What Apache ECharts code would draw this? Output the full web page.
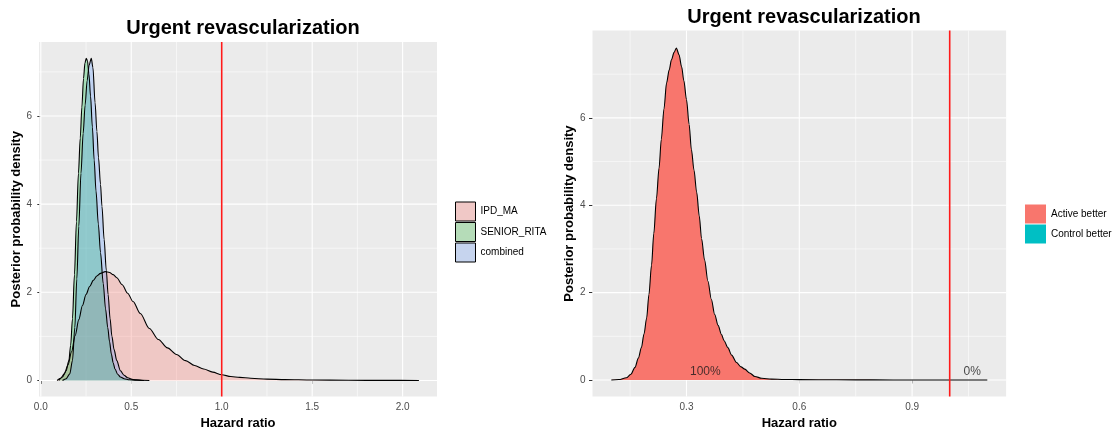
<!DOCTYPE html>
<html>
<head>
<meta charset="utf-8">
<title>Urgent revascularization</title>
<script src="https://cdn.jsdelivr.net/npm/echarts@6/dist/echarts.min.js"></script>
<style>
  html, body { margin: 0; padding: 0; background: #fff; }
  #chart { width: 1114px; height: 435px; }
</style>
</head>
<body>
<div id="chart"></div>
<script>
// ---- Left panel: posterior densities of the hazard ratio ----
const ipdX = [0.09, 0.11, 0.13, 0.15, 0.17, 0.19, 0.21, 0.23, 0.25, 0.27, 0.29, 0.31, 0.33, 0.356, 0.38, 0.40, 0.42, 0.45, 0.48, 0.51, 0.55, 0.60, 0.65, 0.70, 0.75, 0.80, 0.85, 0.90, 0.95, 1.00, 1.05, 1.10, 1.16, 1.25, 1.35, 1.50, 1.70, 1.90, 2.09];
const ipdY = [0, 0.05, 0.15, 0.35, 0.65, 1.02, 1.38, 1.70, 1.95, 2.13, 2.27, 2.37, 2.43, 2.47, 2.45, 2.40, 2.33, 2.17, 1.98, 1.79, 1.52, 1.18, 0.93, 0.74, 0.59, 0.45, 0.34, 0.26, 0.19, 0.13, 0.09, 0.07, 0.05, 0.03, 0.02, 0.01, 0.004, 0.002, 0];

const seniorX = [0.10, 0.12, 0.14, 0.155, 0.165, 0.175, 0.186, 0.197, 0.208, 0.218, 0.227, 0.236, 0.244, 0.251, 0.258, 0.266, 0.275, 0.285, 0.295, 0.305, 0.318, 0.33, 0.345, 0.358, 0.37, 0.38, 0.39, 0.40, 0.41, 0.425, 0.44, 0.46, 0.49, 0.53, 0.57];
const seniorY = [0, 0.08, 0.22, 0.45, 0.80, 1.40, 2.40, 3.60, 4.70, 5.50, 6.20, 6.85, 7.20, 7.31, 7.25, 6.95, 6.45, 5.75, 5.00, 4.30, 3.55, 2.90, 2.20, 1.62, 1.20, 0.88, 0.60, 0.40, 0.26, 0.14, 0.08, 0.04, 0.015, 0.005, 0];

const combX = [0.12, 0.14, 0.16, 0.175, 0.188, 0.199, 0.21, 0.222, 0.234, 0.245, 0.256, 0.267, 0.279, 0.288, 0.30, 0.31, 0.319, 0.33, 0.338, 0.35, 0.362, 0.372, 0.383, 0.393, 0.405, 0.42, 0.44, 0.46, 0.48, 0.51, 0.56, 0.60];
const combY = [0, 0.04, 0.15, 0.45, 1.20, 2.30, 3.50, 4.70, 5.60, 6.25, 6.80, 7.15, 7.31, 7.10, 6.30, 5.65, 5.05, 4.45, 3.95, 3.20, 2.50, 1.95, 1.40, 1.00, 0.70, 0.45, 0.22, 0.12, 0.06, 0.02, 0.005, 0];

// ---- Right panel: pooled posterior, split at HR = 1 ----
const activeX = [0.10, 0.12, 0.14, 0.152, 0.163, 0.172, 0.18, 0.187, 0.194, 0.20, 0.207, 0.213, 0.22, 0.227, 0.233, 0.24, 0.247, 0.254, 0.26, 0.267, 0.273, 0.28, 0.287, 0.293, 0.30, 0.307, 0.313, 0.32, 0.327, 0.334, 0.34, 0.348, 0.357, 0.366, 0.375, 0.384, 0.393, 0.40, 0.41, 0.42, 0.433, 0.445, 0.455, 0.468, 0.482, 0.50, 0.526, 0.56, 0.60, 0.70, 0.80, 0.90, 1.00];
const activeY = [0, 0.01, 0.05, 0.13, 0.29, 0.50, 0.74, 1.05, 1.42, 1.95, 2.63, 3.35, 4.15, 4.85, 5.51, 6.20, 6.80, 7.10, 7.33, 7.50, 7.60, 7.45, 7.17, 6.85, 6.42, 5.85, 5.28, 4.80, 4.30, 3.75, 3.24, 2.75, 2.26, 1.85, 1.50, 1.25, 1.04, 0.90, 0.74, 0.57, 0.40, 0.30, 0.25, 0.16, 0.08, 0.04, 0.02, 0.012, 0.008, 0.004, 0.002, 0.001, 0.0005];
const controlX = [1.00, 1.05, 1.10];
const controlY = [0.0005, 0.0003, 0];

const annotations = [
  { x: 0.35, y: 0.18, text: '100%' },
  { x: 1.06, y: 0.18, text: '0%' }
];

// ---- Scales and ticks ----
const leftXRange = [-0.01, 2.19];
const leftYRange = [-0.366, 7.68];
const leftXMajor = [0, 0.5, 1.0, 1.5, 2.0];
const leftXMinor = [0.25, 0.75, 1.25, 1.75];
const rightXRange = [0.05, 1.15];
const rightYRange = [-0.38, 8.0];
const rightXMajor = [0.3, 0.6, 0.9];
const rightXMinor = [0.15, 0.45, 0.75, 1.05];
const yMajor = [0, 2, 4, 6];
const yMinor = [1, 3, 5, 7];
const refLine = 1.0;

const titleText = 'Urgent revascularization';
const xTitle = 'Hazard ratio';
const yTitle = 'Posterior probability density';

const FONT = '"Liberation Sans", Arial, sans-serif';
const zip = (xs, ys) => xs.map((x, i) => [x, ys[i]]);

// panel grid lines as plain segments behind the densities
function segment(idx, pts, color, width, z) {
  return {
    type: 'line', xAxisIndex: idx, yAxisIndex: idx, data: pts,
    symbol: 'none', silent: true, animation: false, z: z,
    lineStyle: { color: color, width: width, opacity: 1 }, tooltip: { show: false }
  };
}
function panelGrid(idx, xr, yr, xMaj, xMin) {
  const out = [];
  xMin.forEach(v => out.push(segment(idx, [[v, yr[0]], [v, yr[1]]], '#ffffff', 0.55, 1)));
  yMinor.forEach(v => out.push(segment(idx, [[xr[0], v], [xr[1], v]], '#ffffff', 0.55, 1)));
  xMaj.forEach(v => out.push(segment(idx, [[v, yr[0]], [v, yr[1]]], '#ffffff', 1.1, 1)));
  yMajor.forEach(v => out.push(segment(idx, [[xr[0], v], [xr[1], v]], '#ffffff', 1.1, 1)));
  return out;
}

function density(idx, name, xs, ys, fill) {
  return {
    type: 'line', name: name, xAxisIndex: idx, yAxisIndex: idx,
    data: zip(xs, ys), symbol: 'none', smooth: 0.3, smoothMonotone: 'x',
    animation: false, z: 3,
    itemStyle: { color: fill },
    lineStyle: { color: '#000000', width: 1.1 },
    areaStyle: { color: fill, opacity: 1 }
  };
}

function xAxisDef(idx, range, ticks, digits) {
  return {
    type: 'value', gridIndex: idx, min: range[0], max: range[1],
    name: xTitle, nameLocation: 'middle', nameGap: 18.5,
    nameTextStyle: { fontFamily: FONT, fontSize: 13, fontWeight: 'bold', color: '#000' },
    axisLine: { show: false },
    axisTick: { show: true, length: 3.5, customValues: ticks, lineStyle: { color: '#333333', width: 1 } },
    axisLabel: { customValues: ticks, margin: 5.5, fontFamily: FONT, fontSize: 10, color: '#4d4d4d',
                 formatter: v => v.toFixed(digits) },
    splitLine: { show: false }, minorSplitLine: { show: false }
  };
}
function yAxisDef(idx, range, gap) {
  return {
    type: 'value', gridIndex: idx, min: range[0], max: range[1],
    name: yTitle, nameLocation: 'middle', nameGap: gap,
    nameTextStyle: { fontFamily: FONT, fontSize: 13, fontWeight: 'bold', color: '#000' },
    axisLine: { show: false },
    axisTick: { show: true, length: 3.5, customValues: yMajor, lineStyle: { color: '#333333', width: 1 } },
    axisLabel: { customValues: yMajor, margin: 7, fontFamily: FONT, fontSize: 10, color: '#4d4d4d',
                 formatter: v => String(Math.round(v)) },
    splitLine: { show: false }
  };
}

const series = [].concat(
  panelGrid(0, leftXRange, leftYRange, leftXMajor, leftXMinor),
  panelGrid(1, rightXRange, rightYRange, rightXMajor, rightXMinor),
  [
    density(0, 'IPD_MA', ipdX, ipdY, 'rgba(248,118,109,0.3)'),
    density(0, 'SENIOR_RITA', seniorX, seniorY, 'rgba(0,186,56,0.3)'),
    density(0, 'combined', combX, combY, 'rgba(97,156,255,0.3)'),
    density(1, 'Active better', activeX, activeY, '#F8766D'),
    density(1, 'Control better', controlX, controlY, '#00BFC4'),
    segment(0, [[refLine, leftYRange[0]], [refLine, leftYRange[1]]], '#ff1a1a', 1.6, 4),
    segment(1, [[refLine, rightYRange[0]], [refLine, rightYRange[1]]], '#ff1a1a', 1.6, 4),
    {
      type: 'scatter', xAxisIndex: 1, yAxisIndex: 1, silent: true, animation: false, z: 5,
      symbolSize: 0,
      data: annotations.map(a => ({ value: [a.x, a.y], name: a.text })),
      label: { show: true, position: 'inside', formatter: p => p.name,
               fontFamily: FONT, fontSize: 12, color: '#1a1a1a' }
    }
  ]
);

const chart = echarts.init(document.getElementById('chart'), null, { renderer: 'canvas' });
chart.setOption({
  backgroundColor: '#ffffff',
  animation: false,
  title: [
    { text: titleText, left: 238, top: 13.5, textAlign: 'center',
      textStyle: { fontFamily: FONT, fontSize: 20, fontWeight: 'bold', color: '#000' } },
    { text: titleText, left: 799, top: 2, textAlign: 'center',
      textStyle: { fontFamily: FONT, fontSize: 20, fontWeight: 'bold', color: '#000' } }
  ],
  grid: [
    { left: 39, top: 41.9, width: 398, height: 358.4, show: true, backgroundColor: '#ebebeb', borderWidth: 0 },
    { left: 592.5, top: 30.5, width: 413.6, height: 369, show: true, backgroundColor: '#ebebeb', borderWidth: 0 }
  ],
  xAxis: [ xAxisDef(0, leftXRange, leftXMajor, 1), xAxisDef(1, rightXRange, rightXMajor, 1) ],
  yAxis: [ yAxisDef(0, leftYRange, 14.5), yAxisDef(1, rightYRange, 15) ],
  legend: [
    {
      orient: 'vertical', left: 455, top: 201.5, padding: 0, itemWidth: 20, itemHeight: 19, itemGap: 0.5,
      icon: 'rect', selectedMode: false,
      textStyle: { fontFamily: FONT, fontSize: 10, color: '#000' },
      data: [
        { name: 'IPD_MA', itemStyle: { color: '#f0c8c6', borderColor: '#000', borderWidth: 1 } },
        { name: 'SENIOR_RITA', itemStyle: { color: '#b5dcb8', borderColor: '#000', borderWidth: 1 } },
        { name: 'combined', itemStyle: { color: '#c6d4ee', borderColor: '#000', borderWidth: 1 } }
      ]
    },
    {
      orient: 'vertical', left: 1025, top: 204.5, padding: 0, itemWidth: 21, itemHeight: 19, itemGap: 1,
      icon: 'rect', selectedMode: false,
      textStyle: { fontFamily: FONT, fontSize: 10, color: '#000' },
      data: [
        { name: 'Active better', itemStyle: { color: '#F8766D', borderWidth: 0 } },
        { name: 'Control better', itemStyle: { color: '#00BFC4', borderWidth: 0 } }
      ]
    }
  ],
  series: series
});
</script>
</body>
</html>
